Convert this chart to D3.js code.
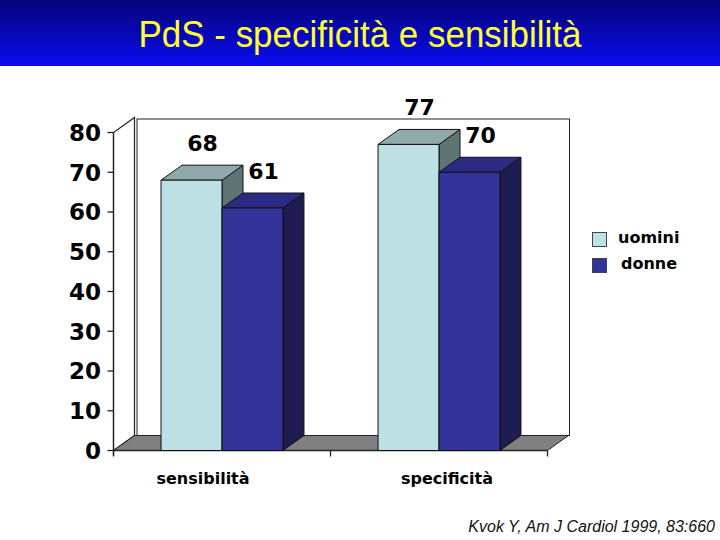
<!DOCTYPE html>
<html><head><meta charset="utf-8">
<script src="https://cdn.jsdelivr.net/npm/d3@7"></script>
<style>html,body{margin:0;padding:0;background:#fff;}svg{display:block;}</style>
</head><body>
<script>
const categories = ["sensibilità", "specificità"];
const seriesNames = ["uomini", "donne"];
const uomini = [68, 77];
const donne = [61, 70];
const yTicks = [0, 10, 20, 30, 40, 50, 60, 70, 80];
const titleText = "PdS - specificità e sensibilità";
const sourceText = "Kvok Y, Am J Cardiol 1999, 83:660";

const W = 720, H = 540;
const svg = d3.select("body").append("svg").attr("width", W).attr("height", H);

// header band
const defs = svg.append("defs");
const g = defs.append("linearGradient").attr("id", "hdr").attr("x1", 0).attr("y1", 0).attr("x2", 0).attr("y2", 1);
g.append("stop").attr("offset", "0%").attr("stop-color", "#05057a");
g.append("stop").attr("offset", "100%").attr("stop-color", "#0a0af2");
svg.append("rect").attr("x", 0).attr("y", 0).attr("width", W).attr("height", 66).attr("fill", "url(#hdr)");
svg.append("text").attr("x", 360).attr("y", 47).attr("text-anchor", "middle")
  .attr("font-family", "'Liberation Sans', Arial, sans-serif").attr("font-size", 36)
  .attr("textLength", 443).attr("lengthAdjust", "spacingAndGlyphs")
  .attr("fill", "#ffff33").text(titleText);

// scales
const x0 = 113.5, x1 = 547.5;
const y = d3.scaleLinear().domain([0, 80]).range([450.5, 132.5]);
const x = d3.scaleBand().domain(categories).range([x0, x1]).paddingInner(0).paddingOuter(0);
const xs = d3.scaleBand().domain(seriesNames).range([0, x.bandwidth()]).paddingInner(0).paddingOuter(0.78);
const DX = 21, DY = -15;

const colors = {
  uomini: {front: "#bce0e4", top: "#90a9aa", side: "#5f7474"},
  donne: {front: "#333399", top: "#2b2b86", side: "#1d1d52"}
};

const chart = svg.append("g");
const line = d3.line();
const stroke = "#222";

// back wall
chart.append("rect").attr("x", x0 + DX + 2.5).attr("y", y(80) + DY + 1.5).attr("width", x1 + DX + 1 - (x0 + DX + 2.5)).attr("height", y(0) - y(80) - 1.5)
  .attr("fill", "#fff").attr("stroke", stroke).attr("stroke-width", 1);
// left wall
chart.append("path").attr("d", line([[x0, y(0)], [x0, y(80)], [x0 + DX, y(80) + DY], [x0 + DX, y(0) + DY]]) + "Z")
  .attr("fill", "#fff").attr("stroke", stroke).attr("stroke-width", 1.2);
// floor
chart.append("path").attr("d", line([[x0, y(0)], [x1, y(0)], [x1 + DX, y(0) + DY], [x0 + DX, y(0) + DY]]) + "Z")
  .attr("fill", "#808080").attr("stroke", stroke).attr("stroke-width", 1);

// y axis line + ticks
chart.append("line").attr("x1", x0).attr("x2", x0).attr("y1", y(80)).attr("y2", y(0) + 5).attr("stroke", stroke).attr("stroke-width", 1.3);
chart.selectAll(".yt").data(yTicks).join("line")
  .attr("x1", x0 - 6).attr("x2", x0).attr("y1", d => y(d)).attr("y2", d => y(d)).attr("stroke", stroke).attr("stroke-width", 1.3);
chart.selectAll(".yl").data(yTicks).join("text")
  .attr("x", 101).attr("y", d => y(d)).attr("dy", "0.36em").attr("text-anchor", "end")
  .attr("font-family", "'DejaVu Sans', Verdana, sans-serif").attr("font-weight", "bold").attr("font-size", 23)
  .attr("fill", "#000").text(d => d);

// x axis
chart.append("line").attr("x1", x0).attr("x2", x1).attr("y1", y(0)).attr("y2", y(0)).attr("stroke", stroke).attr("stroke-width", 1.3);
const xTickPos = [x0, ...categories.slice(1).map(c => x(c)), x1];
chart.selectAll(".xt").data(xTickPos).join("line")
  .attr("x1", d => d).attr("x2", d => d).attr("y1", y(0)).attr("y2", y(0) + 6).attr("stroke", stroke).attr("stroke-width", 1.3);
const xLab = d3.scalePoint().domain(categories).range([203, 447]);
chart.selectAll(".xl").data(categories).join("text")
  .attr("x", d => xLab(d)).attr("y", 484).attr("text-anchor", "middle")
  .attr("font-family", "'DejaVu Sans', Verdana, sans-serif").attr("font-weight", "bold").attr("font-size", 16)
  .attr("fill", "#000").text(d => d);

// bars
const bars = [];
categories.forEach((c, i) => {
  bars.push({cat: c, s: "uomini", v: uomini[i]});
  bars.push({cat: c, s: "donne", v: donne[i]});
});
bars.forEach(b => {
  const bx0 = x(b.cat) + xs(b.s), bx1 = bx0 + xs.bandwidth();
  const yt = y(b.v), yb = y(0);
  const col = colors[b.s];
  const bg = chart.append("g").attr("stroke", "#111").attr("stroke-width", 1).attr("stroke-linejoin", "round");
  bg.append("path").attr("d", line([[bx1, yt], [bx1 + DX, yt + DY], [bx1 + DX, yb + DY], [bx1, yb]]) + "Z").attr("fill", col.side);
  bg.append("path").attr("d", line([[bx0, yt], [bx0 + DX, yt + DY], [bx1 + DX, yt + DY], [bx1, yt]]) + "Z").attr("fill", col.top);
  bg.append("rect").attr("x", bx0).attr("y", yt).attr("width", bx1 - bx0).attr("height", yb - yt).attr("fill", col.front);
  chart.append("text").attr("x", (bx0 + bx1) / 2 + 11).attr("y", yt - 29).attr("text-anchor", "middle")
    .attr("font-family", "'DejaVu Sans', Verdana, sans-serif").attr("font-weight", "bold").attr("font-size", 22)
    .attr("fill", "#000").text(b.v);
});

// legend
const leg = svg.append("g");
seriesNames.forEach((s, i) => {
  const ly = 232 + i * 26;
  leg.append("rect").attr("x", 592.5).attr("y", ly + 0.5).attr("width", 14).attr("height", 14)
    .attr("fill", colors[s].front).attr("stroke", "#444").attr("stroke-width", 1);
  leg.append("text").attr("x", i === 0 ? 618 : 621).attr("y", ly + 11).attr("font-family", "'DejaVu Sans', Verdana, sans-serif")
    .attr("font-weight", "bold").attr("font-size", 16).attr("fill", "#000").text(s);
});

// source
svg.append("text").attr("x", 715).attr("y", 532).attr("text-anchor", "end")
  .attr("font-family", "'Liberation Sans', Arial, sans-serif").attr("font-style", "italic").attr("font-size", 16)
  .attr("fill", "#111").text(sourceText);
</script>
</body></html>
